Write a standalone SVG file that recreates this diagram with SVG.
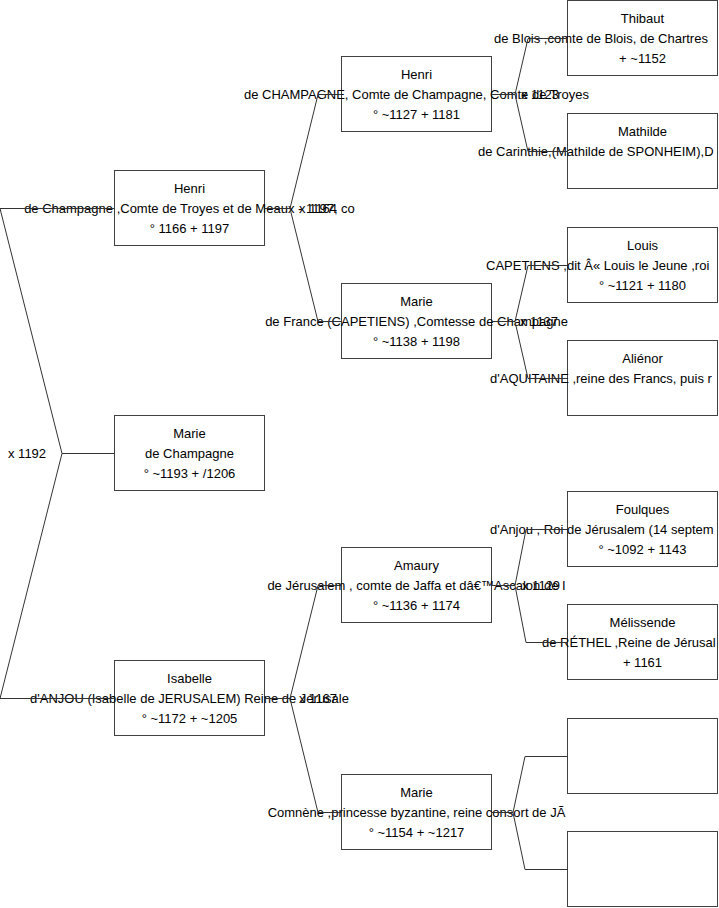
<svg xmlns="http://www.w3.org/2000/svg" width="719" height="908" viewBox="0 0 719 908">
<style>
.box{fill:#fff;stroke:#404040;stroke-width:1}
.conn{fill:none;stroke:#333;stroke-width:1}
text{font-family:"Liberation Sans",Arial,Helvetica,sans-serif;font-size:13px;fill:#000}
.c{text-anchor:middle}
</style>
<rect width="719" height="908" fill="#fff"/>
<g id="nodes">
<g id="n-marie-root"><rect class="box" x="114.5" y="415.5" width="150" height="75"/>
<text class="c" x="189.5" y="438">Marie</text><text class="c" x="189.5" y="458">de Champagne</text><text class="c" x="189.5" y="478">° ~1193 + /1206</text></g>
<g id="n-henri-2"><rect class="box" x="114.5" y="170.5" width="150" height="75"/>
<text class="c" x="189.5" y="193">Henri</text><text class="c" x="189.5" y="213">de Champagne ,Comte de Troyes et de Meaux - 1197, co</text><text class="c" x="189.5" y="233">° 1166 + 1197</text></g>
<g id="n-isabelle"><rect class="box" x="114.5" y="660.5" width="150" height="75"/>
<text class="c" x="189.5" y="683">Isabelle</text><text class="c" x="189.5" y="703">d'ANJOU (Isabelle de JERUSALEM) Reine de Jérusale</text><text class="c" x="189.5" y="723">° ~1172 + ~1205</text></g>
<g id="n-henri-1"><rect class="box" x="341.5" y="56.5" width="150" height="75"/>
<text class="c" x="416.5" y="79">Henri</text><text class="c" x="416.5" y="99">de CHAMPAGNE, Comte de Champagne, Comte de Troyes</text><text class="c" x="416.5" y="119">° ~1127 + 1181</text></g>
<g id="n-marie-france"><rect class="box" x="341.5" y="283.5" width="150" height="75"/>
<text class="c" x="416.5" y="306">Marie</text><text class="c" x="416.5" y="326">de France (CAPETIENS) ,Comtesse de Champagne</text><text class="c" x="416.5" y="346">° ~1138 + 1198</text></g>
<g id="n-amaury"><rect class="box" x="341.5" y="547.5" width="150" height="75"/>
<text class="c" x="416.5" y="570">Amaury</text><text class="c" x="416.5" y="590">de Jérusalem , comte de Jaffa et dâ€™Ascalon de I</text><text class="c" x="416.5" y="610">° ~1136 + 1174</text></g>
<g id="n-marie-comnene"><rect class="box" x="341.5" y="774.5" width="150" height="75"/>
<text class="c" x="416.5" y="797">Marie</text><text class="c" x="416.5" y="817">Comnène ,princesse byzantine, reine consort de JÃ</text><text class="c" x="416.5" y="837">° ~1154 + ~1217</text></g>
<g id="n-thibaut"><rect class="box" x="567.5" y="0.5" width="150" height="75"/>
<text class="c" x="642.5" y="23">Thibaut</text><text x="494" y="43">de Blois ,comte de Blois, de Chartres</text><text class="c" x="642.5" y="63">+ ~1152</text></g>
<g id="n-mathilde"><rect class="box" x="567.5" y="113.5" width="150" height="75"/>
<text class="c" x="642.5" y="136">Mathilde</text><text x="478" y="156">de Carinthie,(Mathilde de SPONHEIM),D</text></g>
<g id="n-louis"><rect class="box" x="567.5" y="227.5" width="150" height="75"/>
<text class="c" x="642.5" y="250">Louis</text><text x="486" y="270">CAPETIENS ,dit Â« Louis le Jeune ,roi</text><text class="c" x="642.5" y="290">° ~1121 + 1180</text></g>
<g id="n-alienor"><rect class="box" x="567.5" y="340.5" width="150" height="75"/>
<text class="c" x="642.5" y="363">Aliénor</text><text x="490" y="383">d'AQUITAINE ,reine des Francs, puis r</text></g>
<g id="n-foulques"><rect class="box" x="567.5" y="491.5" width="150" height="75"/>
<text class="c" x="642.5" y="514">Foulques</text><text x="490" y="534">d'Anjou , Roi de Jérusalem (14 septem</text><text class="c" x="642.5" y="554">° ~1092 + 1143</text></g>
<g id="n-melissende"><rect class="box" x="567.5" y="604.5" width="150" height="75"/>
<text class="c" x="642.5" y="627">Mélissende</text><text x="542" y="647">de RÉTHEL ,Reine de Jérusal</text><text class="c" x="642.5" y="667">+ 1161</text></g>
<g id="n-empty-1"><rect class="box" x="567.5" y="718.5" width="150" height="75"/></g>
<g id="n-empty-2"><rect class="box" x="567.5" y="831.5" width="150" height="75"/></g>
</g>
<g id="connectors">
<path class="conn" d="M0,208.5 H114.5 M0,698.5 H114.5 M0,208.5 L62,453.5 L0,698.5 M62,453.5 H114.5"/>
<path class="conn" d="M264.5,208.5 H290 L318,94.5 H341.5 M290,208.5 L318,321.5 H341.5"/>
<path class="conn" d="M264.5,698.5 H290 L318,585.5 H341.5 M290,698.5 L318,812.5 H341.5"/>
<path class="conn" d="M491.5,94.5 H515 L528,38.5 H567.5 M515,94.5 L528,151.5 H567.5"/>
<path class="conn" d="M491.5,321.5 H515 L528,265.5 H567.5 M515,321.5 L528,378.5 H567.5"/>
<path class="conn" d="M491.5,585.5 H515 L526,529.5 H567.5 M515,585.5 L526,642.5 H567.5"/>
<path class="conn" d="M491.5,812.5 H513 L525,756.5 H567.5 M513,812.5 L525,869.5 H567.5"/>
<text x="8" y="458">x 1192</text>
<text x="299" y="213">x 1164</text>
<text x="299" y="703">x 1167</text>
<text x="521" y="99">x 1123</text>
<text x="520" y="326">x 1137</text>
<text x="522" y="590">x 1129</text>
</g>
</svg>
